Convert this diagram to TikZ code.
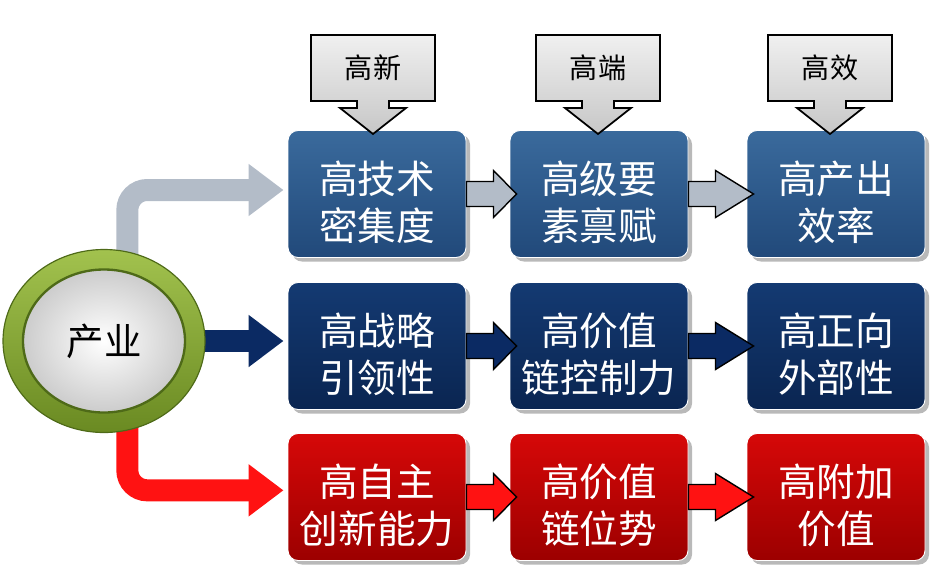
\documentclass[tikz,border=0pt]{standalone}
\usepackage{fontspec}
\newfontfamily\cjk{Noto Sans CJK SC}
\usepackage{tikz}
\usetikzlibrary{shapes.geometric,shadows,arrows.meta,calc,backgrounds}

\definecolor{steelA}{HTML}{3A6A9C}
\definecolor{steelB}{HTML}{21497A}
\definecolor{navyA}{HTML}{143A72}
\definecolor{navyB}{HTML}{0A2551}
\definecolor{redA}{HTML}{D60808}
\definecolor{redB}{HTML}{9C0000}
\definecolor{pathgray}{HTML}{B3BCC8}
\definecolor{pathnavy}{HTML}{0B2A63}
\definecolor{pathred}{HTML}{FF1212}
\definecolor{ringA}{HTML}{A2C24E}
\definecolor{ringB}{HTML}{6A8A22}
\definecolor{ringdark}{HTML}{4E6A18}

\begin{document}
\begin{tikzpicture}[
x=0.03cm, y=-0.03cm,
font=\cjk,
box/.style={draw=white, line width=0.8pt, rounded corners=0.3cm,
  minimum width=5.34cm, minimum height=3.81cm, align=center, text=white,
  font=\cjk\fontsize{33}{40}\selectfont, text height=2.9cm,
  drop shadow={shadow xshift=0.12cm, shadow yshift=-0.12cm, fill=black!55}},
bluebox/.style={box, top color=steelA, bottom color=steelB},
navybox/.style={box, top color=navyA, bottom color=navyB},
redbox/.style={box, top color=redA, bottom color=redB},
link/.style={draw=black, line width=1.2pt, line join=miter},
callout/.style={draw=black, line width=1.5pt, top color=black!6, bottom color=black!22},
tag/.style={font=\cjk\fontsize{24}{28}\selectfont, text=black},
flow/.style={line width=0.66cm, rounded corners=0.6cm, shorten >=0.12cm,
  -{Triangle[length=1.05cm,width=1.5cm]}}
]
    \useasboundingbox (0,0) rectangle (931,582);

    % circle
    \node[ellipse, minimum width=6.06cm, minimum height=5.49cm, draw=ringdark,
      line width=1pt, top color=ringA, bottom color=ringB] (ring) at (104,341) {};
    \node[ellipse, minimum width=4.86cm, minimum height=4.29cm, draw=ringdark,
      line width=2pt, inner color=white, outer color=black!20, text=black,
      font=\cjk\fontsize{32}{38}\selectfont] (cir) at (ring) {产业};

    % boxes
    \node[bluebox] (r1c1) at (377,194) {高技术\\密集度};
    \node[bluebox] (r1c2) at (599,194) {高级要\\素禀赋};
    \node[bluebox] (r1c3) at (836,194) {高产出\\效率};
    \node[navybox] (r2c1) at (377,346) {高战略\\引领性};
    \node[navybox] (r2c2) at (599,346) {高价值\\链控制力};
    \node[navybox] (r2c3) at (836,346) {高正向\\外部性};
    \node[redbox] (r3c1) at (377,497) {高自主\\创新能力};
    \node[redbox] (r3c2) at (599,497) {高价值\\链位势};
    \node[redbox] (r3c3) at (836,497) {高附加\\价值};

    % paths out of the circle
    \begin{scope}[on background layer]
    \draw[flow, pathgray] ([xshift=0.7cm]ring.center) |- ([yshift=0.12cm]r1c1.west);
    \draw[flow, pathnavy] (ring.center) -- (ring.center -| r2c1.west);
    \draw[flow, pathred] ([xshift=0.7cm]ring.center) |- ([yshift=0.2cm]r3c1.west);
    \end{scope}

    % arrows between boxes
    \foreach \a/\b/\c in {r1c1/r1c2/pathgray, r1c2/r1c3/pathgray,
      r2c1/r2c2/pathnavy, r2c2/r2c3/pathnavy, r3c1/r3c2/pathred, r3c2/r3c3/pathred}{
      \draw[link, fill=\c] (\a.east) ++(0,-12.5) -- ++(27,0) -- ++(0,-11)
        -- ($(\b.west)+(7,0)$) -- ($(\a.east)+(27,23.5)$) -- ++(0,-11)
        -- ++(-27,0) -- cycle;
    }

    % callouts
    \foreach \x/\txt/\nm in {373/高新/hxin, 598/高端/hduan, 830/高效/hxiao}{
      \draw[callout, shift={(\x,68)}] (-62,-33) -- (62,-33) -- (62,33) -- (16,33)
        -- (16,40) -- (33,40) -- (0,66) -- (-33,40) -- (-16,40) -- (-16,33)
        -- (-62,33) -- cycle;
      \node[tag] (\nm) at (\x,68) {\txt};
    }
\end{tikzpicture}
\end{document}
